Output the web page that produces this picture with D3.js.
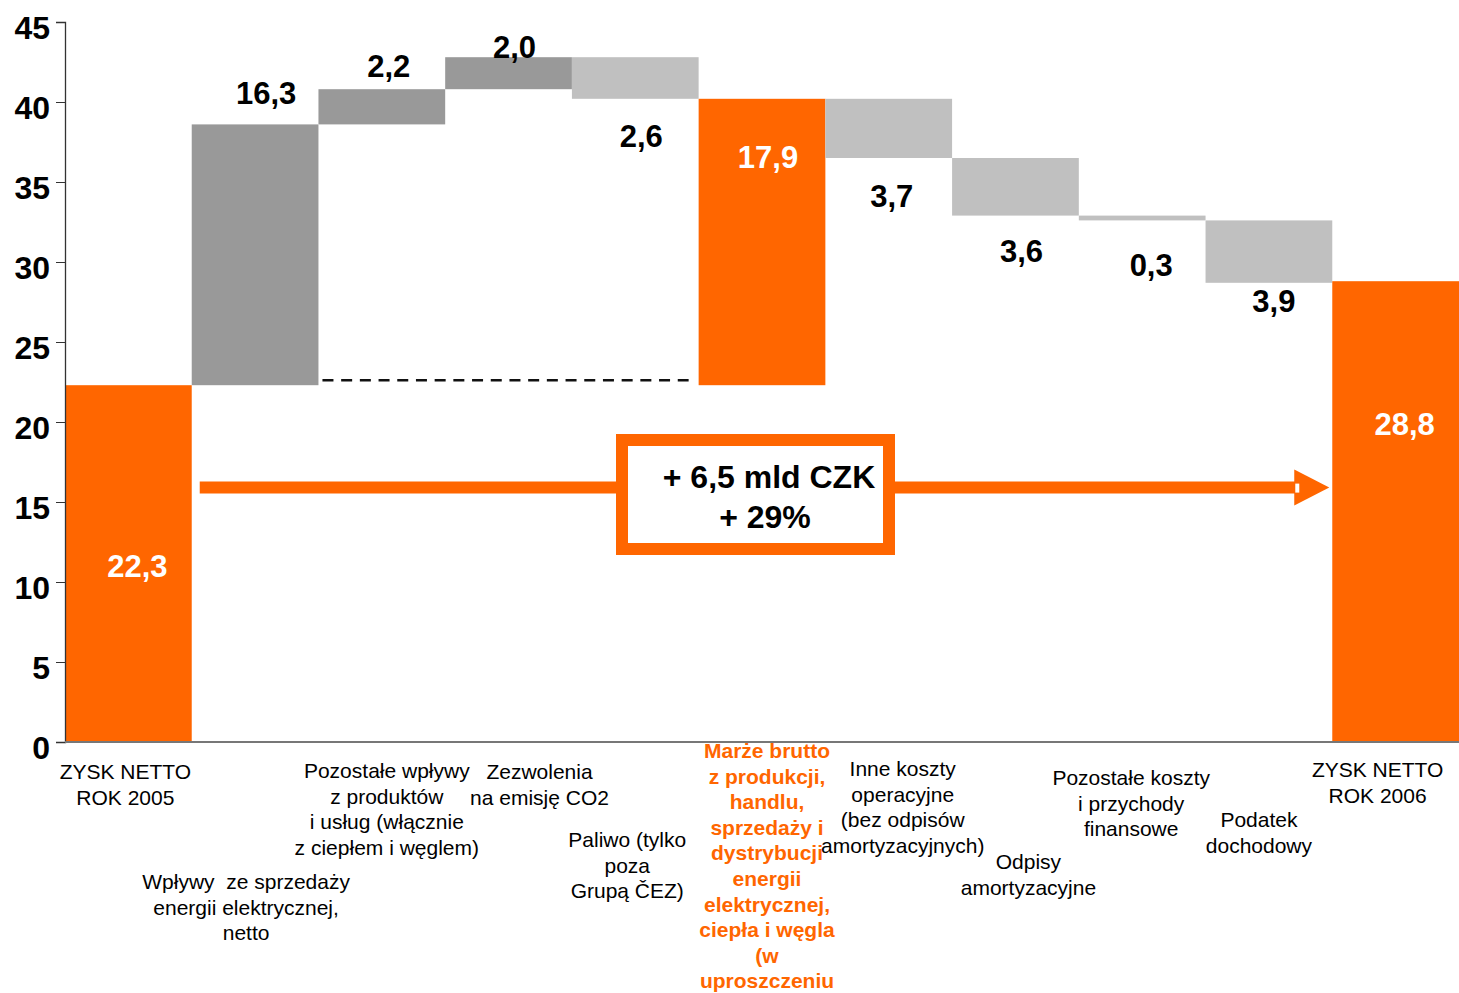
<!DOCTYPE html>
<head>
<meta charset="utf-8">
<title>Zysk netto 2005 - 2006</title>
<style>
  body { margin: 0; background: #fff; }
  svg text { font-family: "Liberation Sans", Arial, sans-serif; white-space: pre; }
</style>
</head>
<body>
<svg width="1459" height="993"></svg>
<script src="https://d3js.org/d3.v7.min.js"></script>
<script>

    // data
    var categories = [
        ["ZYSK NETTO", "ROK 2005"],
        ["Wpływy  ze sprzedaży", "energii elektrycznej,", "netto"],
        ["Pozostałe wpływy", "z produktów", "i usług (włącznie", "z ciepłem i węglem)"],
        ["Zezwolenia", "na emisję CO2"],
        ["Paliwo (tylko", "poza", "Grupą ČEZ)"],
        ["Marże brutto", "z produkcji,", "handlu,", "sprzedaży i", "dystrybucji", "energii", "elektrycznej,", "ciepła i węgla", "(w", "uproszczeniu"],
        ["Inne koszty", "operacyjne", "(bez odpisów", "amortyzacyjnych)"],
        ["Odpisy", "amortyzacyjne"],
        ["Pozostałe koszty", "i przychody", "finansowe"],
        ["Podatek", "dochodowy"],
        ["ZYSK NETTO", "ROK 2006"]
    ];
    var values = [22.3, 16.3, 2.2, 2.0, -2.6, 17.9, -3.7, -3.6, -0.3, -3.9, 28.8];
    var kinds  = ["total", "up", "up", "up", "down", "subtotal", "down", "down", "down", "down", "total"];
    var valueLabels = ["22,3", "16,3", "2,2", "2,0", "2,6", "17,9", "3,7", "3,6", "0,3", "3,9", "28,8"];
    var yTicks = [0, 5, 10, 15, 20, 25, 30, 35, 40, 45];
    var deltaText = ["+ 6,5 mld CZK", "+ 29%"];

    // layout tweaks for the labels (pixels)
    var valueDx = [9, 11, 7, 6, 6, 6, 3, 6, 9, 5, 9];
    var valueDy = [0, -20, -12, 1, 48, 0, 49, 46, 56, 29, 0];
    var catDx   = [-3, -9, 5, 31, -8, 5, 14, 13, -11, -10, -18];
    var catTop  = [772, 882, 771, 772, 840, 751, 769, 862, 778, 820, 770];

    var colors = { total: "#ff6600", subtotal: "#ff6600", up: "#999999", down: "#c0c0c0" };

    var svg = d3.select("svg"),
        width = +svg.attr("width"),
        height = +svg.attr("height");

    var x = d3.scaleBand()
        .domain(d3.range(categories.length))
        .range([65, 1459])
        .padding(0);

    var y = d3.scaleLinear()
        .domain([0, 45])
        .range([742, 22]);

    // running totals -> bar start / end
    var bars = [];
    var running = 0;
    var base = 0;
    values.forEach((v, i) => {
        var k = kinds[i], lo, hi;
        if (k == "total") {
            lo = 0; hi = v; running = v; base = v;
        } else if (k == "subtotal") {
            lo = base; hi = running;
        } else {
            lo = running; hi = running + v; running = hi;
        }
        bars.push({ i: i, kind: k, y0: Math.min(lo, hi), y1: Math.max(lo, hi), v: v });
    });

    // bars
    svg.append("g")
        .selectAll("rect")
        .data(bars)
        .enter().append("rect")
            .attr("x", d => x(d.i))
            .attr("width", x.bandwidth())
            .attr("y", d => y(d.y1))
            .attr("height", d => y(d.y0) - y(d.y1))
            .attr("fill", d => colors[d.kind]);

    // dashed line from the end of the first total to the subtotal
    svg.append("line")
        .attr("x1", x(2) + 4)
        .attr("x2", x(5) - 10)
        .attr("y1", y(bars[0].y1) - 5)
        .attr("y2", y(bars[0].y1) - 5)
        .attr("stroke", "#111")
        .attr("stroke-width", 2.5)
        .attr("stroke-dasharray", "11,7.7");

    // y axis
    var yAxis = svg.append("g")
        .attr("transform", "translate(65,0)")
        .call(d3.axisLeft(y).tickValues(yTicks).tickSize(9).tickPadding(6));
    yAxis.select(".domain").attr("stroke", "#333").attr("stroke-width", 1.3);
    yAxis.selectAll(".tick line").attr("stroke", "#333");
    yAxis.selectAll(".tick text")
        .attr("font-size", 32)
        .attr("font-weight", "bold")
        .attr("fill", "#000")
        .attr("dy", "0.5em");

    // baseline
    svg.append("line")
        .attr("x1", 65).attr("x2", 1459)
        .attr("y1", y(0)).attr("y2", y(0))
        .attr("stroke", "#777")
        .attr("stroke-width", 2);

    // value labels
    var valueG = svg.append("g");
    valueG.selectAll("text")
        .data(bars)
        .enter().append("text")
            .attr("x", d => x(d.i) + x.bandwidth() / 2 + valueDx[d.i])
            .attr("y", d => {
                if (d.i == 0) return y(10.3);
                if (d.i == 10) return y(19.2);
                if (d.kind == "subtotal") return y(d.y1) + 69;
                if (d.kind == "up") return y(d.y1) + valueDy[d.i];
                return y(d.y0) + valueDy[d.i];
            })
            .attr("text-anchor", "middle")
            .attr("font-size", 31)
            .attr("font-weight", "bold")
            .attr("fill", d => (d.kind == "total" || d.kind == "subtotal") ? "#fff" : "#000")
            .text(d => valueLabels[d.i]);

    // category labels
    var cat = svg.append("g")
        .selectAll("text")
        .data(categories)
        .enter().append("text")
            .attr("text-anchor", "middle")
            .attr("font-size", 21)
            .attr("font-weight", (d, i) => kinds[i] == "subtotal" ? "bold" : "normal")
            .attr("fill", (d, i) => kinds[i] == "subtotal" ? "#ff6600" : "#000");
    cat.selectAll("tspan")
        .data((d, i) => d.map(t => ({ t: t, i: i })))
        .enter().append("tspan")
            .attr("x", d => x(d.i) + x.bandwidth() / 2 + catDx[d.i])
            .attr("y", (d, j) => catTop[d.i] + 7 + j * 25.6)
            .text(d => d.t);

    // arrow from 2005 to 2006
    var arrowY = y(15.9);
    svg.append("line")
        .attr("x1", x(1) + 8)
        .attr("x2", x(10) - 36)
        .attr("y1", arrowY).attr("y2", arrowY)
        .attr("stroke", "#ff6600")
        .attr("stroke-width", 12);
    svg.append("path")
        .attr("d", d3.line()([[x(10) - 38, arrowY - 18], [x(10) - 3, arrowY], [x(10) - 38, arrowY + 18]]) + "Z")
        .attr("fill", "#ff6600");
    svg.append("rect")
        .attr("x", x(10) - 37).attr("y", arrowY - 4)
        .attr("width", 4).attr("height", 9)
        .attr("fill", "#fff");

    // delta box
    svg.append("rect")
        .attr("x", 622).attr("y", 440)
        .attr("width", 267).attr("height", 109)
        .attr("fill", "#fff")
        .attr("stroke", "#ff6600")
        .attr("stroke-width", 12);
    svg.append("text")
        .attr("text-anchor", "middle")
        .attr("font-size", 32)
        .attr("font-weight", "bold")
        .selectAll("tspan")
        .data(deltaText)
        .enter().append("tspan")
            .attr("x", (d, i) => i ? 765 : 769)
            .attr("y", (d, i) => 488 + i * 40)
            .text(d => d);

</script>
</body>
